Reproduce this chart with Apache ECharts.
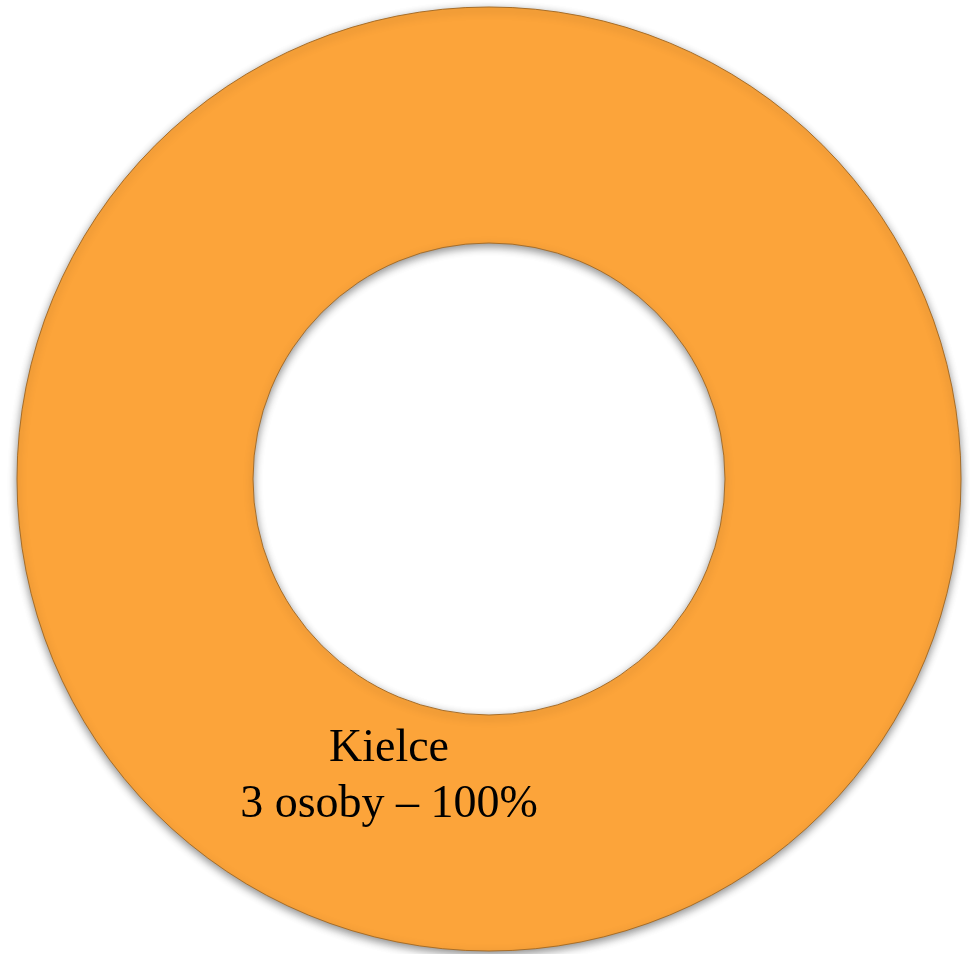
<!DOCTYPE html>
<html>
<head>
<meta charset="utf-8">
<script src="https://cdn.jsdelivr.net/npm/echarts@6/dist/echarts.min.js"></script>
<style>
html,body{margin:0;padding:0;background:#fff;}
#chart{width:970px;height:954px;}
</style>
</head>
<body>
<div id="chart"></div>
<script>
const categories = ['Kielce'];
const counts = [3];
const percents = [100];
const unitLabel = 'osoby';

const chart = echarts.init(document.getElementById('chart'), null, {renderer: 'canvas'});
chart.setOption({
  animation: false,
  backgroundColor: '#ffffff',
  series: [{
    type: 'pie',
    center: [489, 479],
    radius: [236, 472],
    startAngle: 90,
    silent: true,
    emphasis: {disabled: true},
    itemStyle: {
      color: '#FCA43A',
      borderColor: '#A86E28',
      borderWidth: 1,
      shadowColor: 'rgba(0,0,0,0.45)',
      shadowBlur: 8,
      shadowOffsetY: 3
    },
    label: {
      show: true,
      position: 'inside',
      offset: [-100, -59],
      fontFamily: '"Liberation Serif", "Times New Roman", serif',
      fontSize: 46,
      lineHeight: 56,
      color: '#000000',
      align: 'center',
      formatter: function (p) {
        return p.name + '\n' + counts[p.dataIndex] + ' ' + unitLabel + ' – ' + percents[p.dataIndex] + '%';
      }
    },
    labelLine: {show: false},
    data: categories.map((c, i) => ({name: c, value: counts[i]}))
  }]
});
</script>
</body>
</html>
